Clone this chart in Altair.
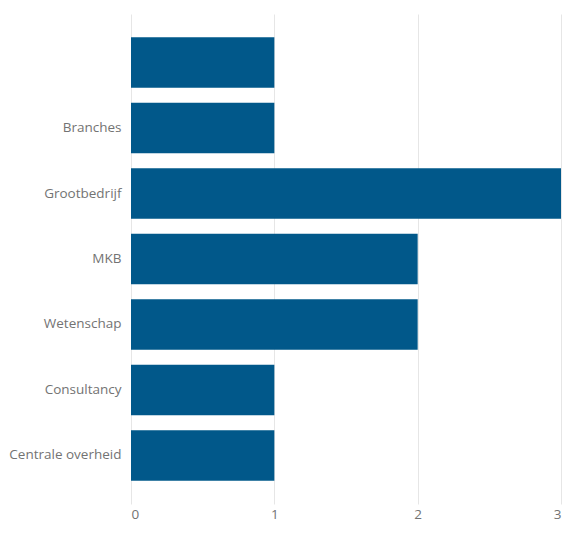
import altair as alt
import pandas as pd

categories = [" ", "Branches", "Grootbedrijf", "MKB", "Wetenschap", "Consultancy", "Centrale overheid"]
values = [1, 1, 3, 2, 2, 1, 1]

df = pd.DataFrame({"cat": categories, "val": values})

chart = alt.Chart(df).mark_bar(color="#01588A").encode(
    y=alt.Y("cat:N", sort=categories, title=None,
            scale=alt.Scale(paddingInner=0.229, paddingOuter=0.355),
            axis=alt.Axis(ticks=False, domain=False, labelPadding=10, labelFontSize=13.5,
                          labelColor="#737373", labelFont="Open Sans", grid=False)),
    x=alt.X("val:Q", title=None, scale=alt.Scale(domain=[0, 3], nice=False),
            axis=alt.Axis(values=[0, 1, 2, 3], format="d", ticks=False, domain=False,
                          labelPadding=3, labelFontSize=13.5, labelColor="#737373",
                          labelFont="Open Sans", gridColor="#E6E6E6", gridWidth=1)),
).properties(
    width=430, height=490,
    autosize=alt.AutoSizeParams(type="none"),
    padding={"left": 123, "top": 6, "right": 4, "bottom": 20},
).configure_view(stroke=None)

chart.save("out.html", embed_options={"renderer": "svg", "actions": False})
